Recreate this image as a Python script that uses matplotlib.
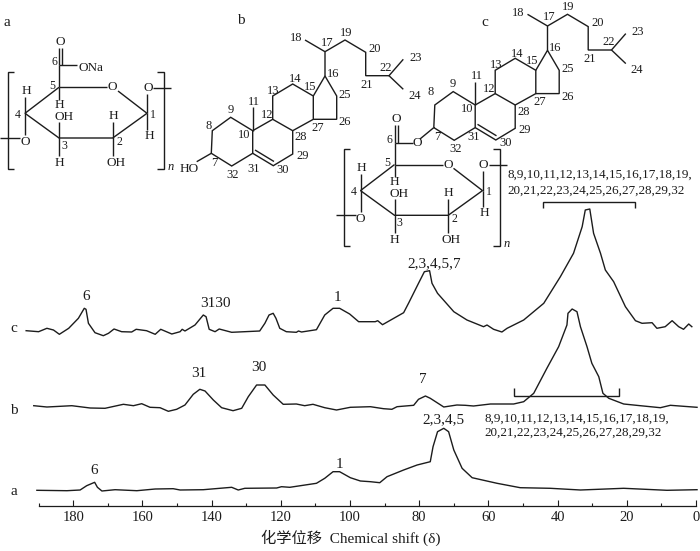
import matplotlib
matplotlib.use('Agg')
import matplotlib.pyplot as plt

plt.rcParams['font.family'] = ['Liberation Serif', 'Noto Sans CJK SC', 'DejaVu Sans']
plt.rcParams['mathtext.fontset'] = 'stix'

INK = '#1c1c1c'

# spectra, shift in ppm and trace height in figure pixels
shift_c = [193.6, 190.0, 187.6, 185.7, 184.0, 181.3, 178.5, 176.8, 176.3, 175.6, 173.7, 171.3, 169.8, 168.2, 166.0,
           163.1, 161.8, 158.8, 156.3, 154.7, 151.5, 149.1, 148.5, 147.7, 144.8, 142.4, 141.6, 140.7, 139.0, 137.8,
           134.2, 126.1, 124.6, 123.4, 122.2, 121.4, 120.3, 118.4, 115.5, 114.9, 114.0, 109.7, 107.3, 104.9, 103.0,
           100.1, 97.5, 92.7, 92.0, 90.6, 84.5, 83.0, 80.2, 78.5, 77.0, 76.3, 74.7, 70.0, 66.2, 61.4, 60.4, 58.5,
           56.1, 54.6, 49.8, 44.0, 39.2, 35.4, 32.9, 32.0, 30.7, 29.6, 27.6, 26.2, 23.8, 20.4, 17.5, 15.6, 12.7,
           11.3, 8.9, 6.9, 5.0, 3.6, 2.1, 1.2]
trace_c = [330.7, 331.7, 328.3, 330, 334.3, 328.3, 318.3, 308.3, 309.3, 323.3, 332.7, 335.7, 333.3, 329, 331.7,
           332, 329.3, 330.7, 334.3, 329.3, 334, 331.7, 329.3, 331, 325, 315, 316.7, 329.3, 331.7, 329,
           332.3, 331, 323.3, 315, 313.3, 318.3, 328.3, 331.7, 332.3, 331, 332, 329.7, 315, 308.3, 308.3,
           314, 321.7, 321.7, 320.7, 324.7, 312.7, 302.7, 283.3, 271.7, 270.7, 283.3, 293.3, 311.7, 320, 326.7, 325, 329.3,
           332, 328.3, 320, 303.3, 276.7, 253.3, 226.7, 210, 209, 233.3, 253.3, 270, 281.7, 306.7, 320.7, 323.3, 322.7,
           328.3, 326.7, 320.7, 326.7, 329.3, 324, 326.7]

shift_b = [191.4, 187.6, 180.4, 175.1, 170.8, 165.5, 162.6, 160.2, 157.8, 154.9, 152.5, 150.1, 147.7, 145.3, 143.4,
           141.9, 139.5, 137.1, 133.8, 131.3, 129.4, 127.0, 124.6, 122.2, 119.3, 115.5, 113.1, 110.7, 107.3, 103.9,
           99.9, 94.1, 90.3, 87.9, 86.4, 81.6, 80.2, 78.2, 76.8, 72.9, 69.1, 66.7, 64.3, 59.4, 52.7, 49.8, 46.9,
           43.1, 39.7, 37.3, 37.0, 35.8, 34.4, 33.4, 31.5, 30.1, 28.1, 26.9, 25.2, 20.9, 16.1, 10.3, 7.4, 3.6, -0.3]
trace_b = [405.7, 407, 405.7, 408, 408.3, 404.3, 405.7, 403.7, 407.3, 407.7, 411.3, 409.3, 405, 394.3, 389.3,
           391, 400, 407.7, 410.7, 408.3, 396.7, 385, 385, 395, 404.3, 404, 405.7, 404.3, 407.7, 410,
           407.3, 406.7, 408.7, 409.3, 406.7, 405.3, 399.3, 396, 398.3, 407, 405, 405.3, 406, 404, 404, 401.7, 393.3,
           368.3, 346.7, 325, 313.3, 309, 311.7, 326.7, 346.7, 363.3, 376.7, 393.3, 398.3, 404, 405.7, 407.7, 405.3, 406.3, 407.3]

shift_a = [190.5, 181.8, 178.0, 176.1, 173.8, 173.0, 171.7, 167.9, 161.6, 156.3, 151.1, 149.1, 142.4, 134.2, 132.3,
           130.4, 121.2, 119.8, 117.4, 109.7, 107.3, 104.9, 103.0, 99.9, 97.0, 94.1, 91.4, 89.3, 84.5, 80.6, 76.8,
           76.0, 74.7, 72.9, 71.5, 70.0, 67.6, 64.7, 57.5, 50.8, 42.1, 33.4, 20.9, 8.4, -0.3]
trace_a = [490.3, 490.7, 490, 485.7, 482.3, 487.3, 491, 489.7, 490.7, 489, 488.7, 490, 489.7, 487.3, 490,
           488.3, 488, 486.7, 487.3, 483.3, 478.3, 471.7, 471.7, 477.7, 481, 481.7, 482.7, 476.7, 470, 465, 461.7,
           446.7, 431.7, 428.3, 431.7, 450, 468.3, 477.7, 483.3, 487.7, 488.3, 490, 488.3, 490.3, 489.7]

major_ticks = list(range(0, 181, 20))
minor_ticks = list(range(10, 191, 20))
x_title = '化学位移  Chemical shift (δ)'

ring_sites = ['5', '1', '2', '3', '4']
steroid_labels = {'18': (295.7, 38.3), '17': (327, 43), '19': (345.7, 33), '20': (375, 49), '21': (366.7, 85),
                  '22': (385.7, 67.7), '23': (415.3, 57.7), '24': (414.3, 96), '25': (345, 94.7), '26': (345, 122.3),
                  '16': (332.7, 74), '15': (310, 86.7), '14': (295, 79.3), '13': (273.3, 90.7), '12': (266.7, 115),
                  '11': (254, 101.7), '10': (244.3, 135), '9': (230.7, 110), '8': (208.3, 126), '7': (214, 163.3),
                  '32': (232.7, 175), '31': (253.3, 169), '30': (282.7, 170), '29': (302.3, 156), '28': (301, 137.3),
                  '27': (317.3, 127.7)}
long_assign = ['8,9,10,11,12,13,14,15,16,17,18,19,', '20,21,22,23,24,25,26,27,28,29,32']

fig = plt.figure(figsize=(7, 5.51), dpi=100)

# spectra axes: x in ppm, y in figure pixels
ax = fig.add_axes([0, 0, 1, 1])
ax.patch.set_alpha(0)
ax.set_xlim(696 / 3.46, -4 / 3.46)
ax.set_ylim(551, 0)
for s, t in [(shift_c, trace_c), (shift_b, trace_b), (shift_a, trace_a)]:
    ax.plot(s, t, color=INK, lw=1.0)
for side in ['left', 'right', 'top']:
    ax.spines[side].set_visible(False)
ax.spines['bottom'].set_position(('data', 506))
ax.spines['bottom'].set_bounds(190, 0)
ax.spines['bottom'].set_linewidth(0.9)
ax.spines['bottom'].set_color(INK)
ax.set_yticks([])
ax.set_xticks(major_ticks)
ax.set_xticks(minor_ticks, minor=True)
ax.tick_params(axis='x', which='major', direction='in', length=4.4, width=0.8, color=INK, labelsize=10.5, pad=3.5,
               labelcolor=INK)
ax.tick_params(axis='x', which='minor', direction='in', length=2.2, width=0.8, color=INK)

# overlay in figure pixels for the formulae and the annotations
sk = fig.add_axes([0, 0, 1, 1])
sk.set_xlim(0, 700)
sk.set_ylim(551, 0)
sk.axis('off')


def bond(pts, dx=0, dy=0, lw=1.0):
    sk.plot([p[0] + dx for p in pts], [p[1] + dy for p in pts], color=INK, lw=lw, solid_capstyle='butt',
            solid_joinstyle='miter')


def label(x, y, s, size=9, **kw):
    sk.text(x, y, s, fontsize=size, color=INK, ha='center', va='center', **kw)


def sugar(dx, dy):
    c5, c1, c2, c3, c4 = (59, 87.3), (147, 113.3), (112.7, 138), (59, 138), (25, 113.3)
    bond([c5, (107, 87.3)], dx, dy)
    bond([(118, 91), c1, c2, c3, c4, c5], dx, dy)
    bond([c1, (147, 94)], dx, dy)
    bond([(153, 88), (171, 88)], dx, dy)
    bond([c1, (147, 130)], dx, dy)
    bond([(112.7, 122), (112.7, 156)], dx, dy)
    bond([(59, 122), (59, 156)], dx, dy)
    bond([(25, 97), (25, 135)], dx, dy)
    bond([(0, 138), (20, 138)], dx, dy)
    bond([c5, (59, 100)], dx, dy)
    bond([(14, 72), (8, 72), (8, 169), (14, 169)], dx, dy)
    bond([(157, 72), (164, 72), (164, 169), (157, 169)], dx, dy)
    for x, y, s in [(112.5, 87.5, 'O'), (148, 88, 'O'), (149, 136, 'H'), (113, 116, 'H'), (116, 163, 'OH'),
                    (64, 117, 'OH'), (59, 163, 'H'), (26, 91, 'H'), (25, 142, 'O'), (59, 105, 'H')]:
        label(x + dx, y + dy, s, 9.5)
    for site, (x, y) in zip(ring_sites, [(52, 86), (153, 115), (119, 142), (64, 146), (18, 115)]):
        label(x + dx, y + dy, site, 8.5)
    label(171 + dx, 167 + dy, 'n', 9, style='italic')


def steroid(dx, dy, moved=None):
    c7, c8, c9, c10 = (211.3, 153.3), (212.3, 130.7), (230.7, 117.3), (252.7, 130.7)
    c31, c32, c12, c13 = (252.7, 153.3), (231.7, 166), (272.7, 119.3), (272.7, 96)
    c14, c15, c27, c28 = (292.7, 84), (313.3, 96), (313.3, 119.3), (292.7, 130.7)
    c29, c30, c16, c25 = (292.7, 154), (273.3, 165.7), (325, 76), (336.7, 96)
    c26, c17, c18 = (336.7, 119.3), (325, 51.7), (305, 40)
    c19, c20, c21, c22 = (345, 40), (365.7, 52.3), (365.7, 75.7), (389, 75.7)
    bond([c7, c8, c9, c10, c31, c32, c7], dx, dy)
    bond([c31, c30, c29, c28, c27, c15, c14, c13, c12, c10], dx, dy)
    bond([c12, c28], dx, dy)
    bond([(255, 150), (274, 161.5)], dx, dy)
    bond([c10, (252.7, 107.3)], dx, dy)
    bond([c15, c16, c25, c26, c27], dx, dy)
    bond([c16, c17, c18], dx, dy)
    bond([c17, c19, c20, c21, c22], dx, dy)
    bond([(403.3, 59.3), c22, (403.3, 89.3)], dx, dy)
    for s, (x, y) in steroid_labels.items():
        if moved and s in moved:
            label(moved[s][0], moved[s][1], s, 9)
        else:
            label(x + dx, y + dy, s, 9)


# formula a
sugar(0, 0)
bond([(59, 87.3), (59, 65)])
bond([(59, 65), (59, 48)])
bond([(62, 65), (62, 48)])
bond([(59, 65), (77, 65)])
label(60.5, 42, 'O', 9.5)
label(54, 62, '6', 8.5)
label(91, 68, 'ONa', 9.5)
label(7, 22, 'a', 11)

# formula b
steroid(0, 0)
bond([(211.3, 153.3), (196.7, 161.7)])
label(189.3, 169, 'HO', 9.5)
label(241, 21, 'b', 11)

# formula c
sugar(335.5, 77.3)
steroid(222.5, -25.7, moved={'8': (430.7, 92.3), '31': (474, 136.7), '30': (505.7, 143.3), '7': (437, 137.3),
                             '32': (455.7, 148.7)})
bond([(394.6, 164.6), (394.6, 143.3)])
bond([(394.6, 143.3), (394.6, 125)])
bond([(397.6, 143.3), (397.6, 125)])
bond([(394.6, 143.3), (412.5, 143.3)])
bond([(420, 139), (433.8, 127.6)])
label(396, 119.3, 'O', 9.5)
label(389.5, 140, '6', 8.5)
label(417.7, 143.3, 'O', 9.5)
label(485, 22, 'c', 11)

# peak assignments
for x, y, s in [(85.7, 296.7, '6'), (215.7, 303.3, '3130'), (337.3, 297.3, '1'), (199, 373.3, '31'),
                (259.3, 367.7, '30'), (94, 470, '6'), (339, 464.3, '1'), (433.7, 263.3, '2,3,4,5,7'),
                (422.7, 379.3, '7'), (443.7, 419.3, '2,3,4,5')]:
    label(x, y, s, 11)
for x, y, s in [(14, 329, 'c'), (14, 410, 'b'), (14, 491.7, 'a')]:
    label(x, y, s, 11)

bond([(542.7, 208), (542.7, 202.3), (635, 202.3), (635, 208)])
bond([(514, 388.3), (514, 396.3), (619, 396.3), (619, 388.3)])
for y, s in zip([175, 191], long_assign):
    sk.text(507.3, y, s, fontsize=9.45, color=INK, ha='left', va='center')
for y, s in zip([418.3, 432.7], long_assign):
    sk.text(484.7, y, s, fontsize=9.45, color=INK, ha='left', va='center')

sk.text(351, 538, x_title, fontsize=11, color=INK, ha='center', va='center')

plt.savefig('out.png', dpi=100)
